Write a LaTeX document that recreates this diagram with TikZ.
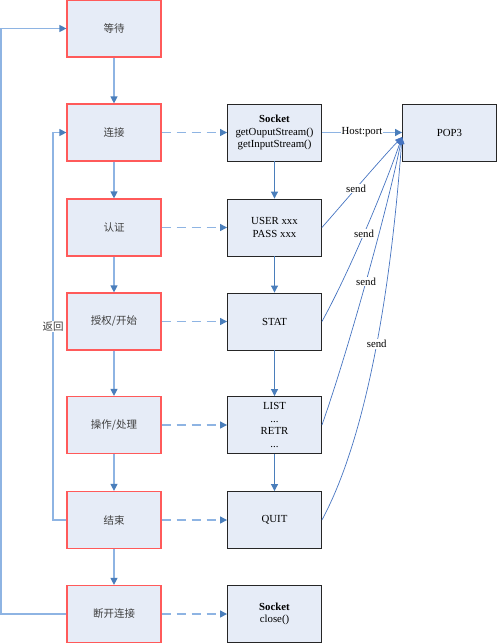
\documentclass[tikz,border=0pt]{standalone}
\usepackage{fontspec}
\setmainfont{Liberation Serif}
\newfontfamily\cjk{Noto Sans CJK SC}
\usetikzlibrary{arrows.meta}
\definecolor{boxfill}{HTML}{E6ECF7}
\definecolor{redline}{HTML}{FF5A5A}
\definecolor{lineblue}{HTML}{8EB4E3}
\definecolor{tipblue}{HTML}{4A7EBB}
\definecolor{darkblue}{HTML}{4674C1}
\tikzset{
  lbox/.style={draw=redline, line width=1.2pt, fill=boxfill, minimum width=94pt, minimum height=57pt, inner sep=1pt, font=\cjk\fontsize{10.5}{12}\selectfont, text=black!75},
  rbox/.style={draw=black!85, line width=0.9pt, fill=boxfill, minimum width=94pt, minimum height=57pt, inner sep=1pt, align=center, font=\fontsize{10.8}{12.5}\selectfont},
  tip/.style={-{Triangle[length=7pt,width=7pt,fill=tipblue,color=tipblue]}},
  flow/.style={draw=lineblue, line width=1.2pt, tip},
  rflow/.style={draw=tipblue, line width=1pt, tip},
  dflow/.style={draw=lineblue, line width=1.3pt, dash pattern=on 9pt off 6pt, tip},
  sendline/.style={draw=darkblue, line width=0.7pt, -{Triangle[length=7pt,width=6pt,fill=darkblue,color=darkblue]}},
  lbl/.style={fill=white, inner sep=1pt, font=\fontsize{10.8}{12}\selectfont}
}
\begin{document}
\begin{tikzpicture}[x=1pt,y=-1pt]
\useasboundingbox (0,0) rectangle (497,643);
% left column
\node[lbox] (wait) at (114,28.5) {等待};
\node[lbox] (conn) at (114,132.5) {连接};
\node[lbox] (auth) at (114,227.5) {认证};
\node[lbox] (start) at (114,321.5) {授权/开始};
\node[lbox] (oper) at (114,425) {操作/处理};
\node[lbox] (fin) at (114,520) {结束};
\node[lbox] (disc) at (114,614) {断开连接};
% right column
\node[rbox] (sock) at (274.5,132.5) {\textbf{Socket}\\getOuputStream()\\getInputStream()};
\node[rbox] (user) at (274.5,227.5) {USER xxx\\PASS xxx};
\node[rbox] (stat) at (274.5,321.5) {STAT};
\node[rbox] (list) at (274.5,425) {LIST\\...\\RETR\\...};
\node[rbox] (quit) at (274.5,520) {QUIT};
\node[rbox] (close) at (274.5,614) {\textbf{Socket}\\close()};
\node[rbox] (pop) at (449.5,132.5) {POP3};
\coordinate (hub) at (402,137);
% left vertical flow
\draw[flow] (wait) -- (conn);
\draw[flow] (conn) -- (auth);
\draw[flow] (auth) -- (start);
\draw[flow] (start) -- (oper);
\draw[flow] (oper) -- (fin);
\draw[flow] (fin) -- (disc);
% right vertical flow
\draw[rflow] (sock) -- (user);
\draw[rflow] (user) -- (stat);
\draw[rflow] (stat) -- (list);
\draw[rflow] (list) -- (quit);
% dashed
\draw[dflow] (conn) -- (sock);
\draw[dflow] (auth) -- (user);
\draw[dflow] (start) -- (stat);
\draw[dflow] (oper) -- (list);
\draw[dflow] (fin) -- (quit);
\draw[dflow] (disc) -- (close);
% loops
\draw[flow] (disc.west) -- (1,614) -- (1,28.5) -- (wait.west);
\draw[flow] (fin.west) -- (53,520) -- node[lbl, pos=0.5, font=\cjk\fontsize{10.5}{12}\selectfont, text=black!75] {返回} (53,132.5) -- (conn.west);
% host:port
\draw[draw=lineblue, line width=1.2pt, -{Triangle[length=7pt,width=7pt,fill=tipblue,color=tipblue]}] (sock.east) -- node[lbl] {Host:port} (pop.west);
% send lines
\draw[sendline] (user.east) .. controls (340,207) and (380,160) .. node[lbl, pos=0.45] {send} (hub);
\draw[sendline] (stat.east) .. controls (345,280) and (380,200) .. node[lbl, pos=0.52] {send} (hub);
\draw[sendline] (list.east) .. controls (345,360) and (385,220) .. node[lbl, pos=0.52] {send} (hub);
\draw[sendline] (quit.east) .. controls (365,440) and (390,300) .. node[lbl, pos=0.54] {send} (hub);
\end{tikzpicture}
\end{document}
